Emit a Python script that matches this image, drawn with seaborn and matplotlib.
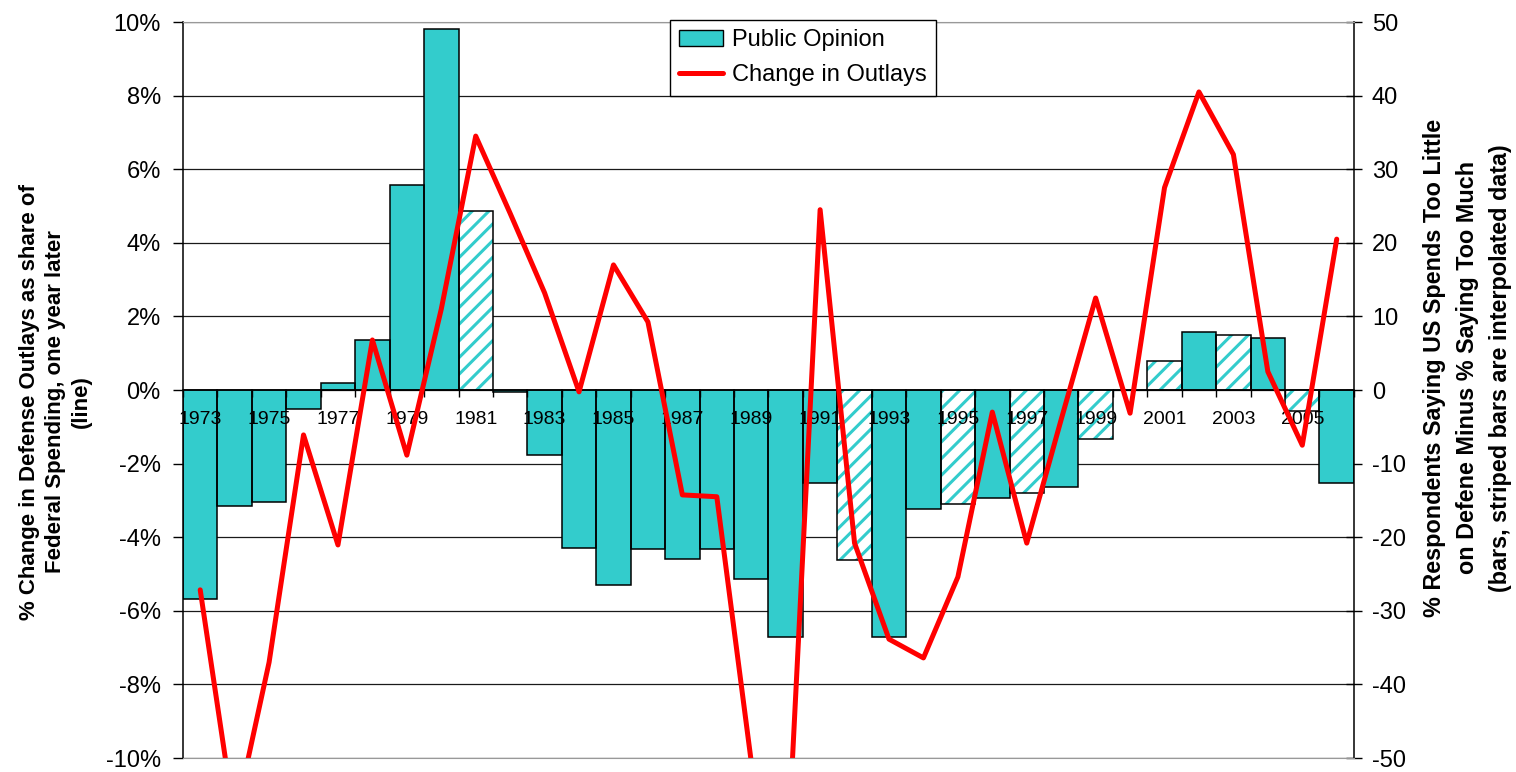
import numpy as np
import matplotlib
matplotlib.use("Agg")
import matplotlib.pyplot as plt
import seaborn as sns
from matplotlib.patches import Patch
from matplotlib.lines import Line2D
from matplotlib.ticker import FuncFormatter


years = list(range(1973, 2007))
# bars: % saying too little minus % saying too much (right axis)
opinion = [-28.4, -15.8, -15.2, -2.6, 0.9, 6.8, 27.9, 49.0, 24.3, -0.3,
           -8.8, -21.5, -26.5, -21.6, -22.9, -21.6, -25.7, -33.6, -12.6, -23.1,
           -33.5, -16.1, -15.5, -14.7, -14.0, -13.2, -6.7, 0.0, 3.9, 7.9,
           7.5, 7.0, -2.9, -12.6]
# line: % change in defense outlays, one year later (left axis)
outlays = [-5.43, -11.7, -7.4, -1.22, -4.21, 1.36, -1.77, 2.2, 6.9, 4.8,
           2.64, -0.05, 3.4, 1.85, -2.85, -2.9, -10.1, -13.7, 4.9, -4.16,
           -6.77, -7.28, -5.08, -0.6, -4.16, -0.8, 2.5, -0.63, 5.5, 8.1,
           6.4, 0.5, -1.5, 4.1]
# years whose bars are interpolated (striped)
interpolated = [1981, 1992, 1995, 1997, 1999, 2001, 2003, 2005]
label_years = list(range(1973, 2006, 2))

CYAN = "#33CCCC"

sns.set_style("white")
plt.rcParams['font.family'] = ['Liberation Sans', 'DejaVu Sans']
plt.rcParams['axes.unicode_minus'] = False
plt.rcParams['hatch.linewidth'] = 2.2
for k in ['text.color', 'axes.labelcolor', 'xtick.color', 'ytick.color']:
    plt.rcParams[k] = 'black'

fig = plt.figure(figsize=(15.16, 7.72), dpi=100)
ax = fig.add_axes([0.1207, 0.0181, 0.7724, 0.9534])
ax2 = ax.twinx()

# bars (fill + hatch), then black outlines on top
sns.barplot(x=years, y=opinion, native_scale=True, width=1, color=CYAN,
            saturation=1, linewidth=0, errorbar=None, ax=ax)
for patch, yr in zip(ax.patches, years):
    if yr in interpolated:
        patch.set_facecolor("white")
        patch.set_edgecolor(CYAN)
        patch.set_hatch("//")
sns.barplot(x=years, y=opinion, native_scale=True, width=1, color="black",
            fill=False, linewidth=1.1, errorbar=None, ax=ax)

# line on the twin axis
sns.lineplot(x=years, y=outlays, color="red", linewidth=3.6, ax=ax2)

# swap sides: bars scale on the right, line scale on the left
ax.yaxis.tick_right()
ax.yaxis.set_label_position("right")
ax2.yaxis.tick_left()
ax2.yaxis.set_label_position("left")

ax.set_xlim(1972.5, 2006.5)
ax.set_ylim(-50, 50)
ax2.set_ylim(-10, 10)
ax.set_yticks(np.arange(-50, 51, 10))
ax2.set_yticks(np.arange(-10, 11, 2))
ax2.yaxis.set_major_formatter(FuncFormatter(lambda v, p: f"{v:.0f}%"))

ax.set_axisbelow(True)
ax.yaxis.grid(True, color="#1a1a1a", linewidth=0.9)
ax.xaxis.set_zorder(2.5)

# category axis at zero, ticks between bars, labels for odd years
ax.spines["bottom"].set_position(("data", 0))
ax.set_xticks(np.arange(1972.5, 2007, 1))
ax.xaxis.set_major_formatter(FuncFormatter(lambda v, p: ""))
ax.set_xticks(label_years, minor=True)
ax.set_xticklabels([str(y) for y in label_years], minor=True)
ax.tick_params(axis="x", which="major", direction="out", length=5,
               width=1, color="black", bottom=True)
ax.tick_params(axis="x", which="minor", length=0, pad=15, labelsize=14,
               bottom=True)

ax.tick_params(axis="y", direction="inout", length=12, width=1,
               color="black", labelsize=17, pad=7, right=True, left=False)
ax2.tick_params(axis="y", direction="out", length=7, width=1,
                color="black", labelsize=17, pad=9, left=True, right=False)

for s in ["left", "right", "bottom"]:
    ax.spines[s].set_color("black")
    ax.spines[s].set_linewidth(1.1)
ax.spines["top"].set_visible(False)
ax2.spines["left"].set_visible(False)
ax2.spines["right"].set_visible(False)
ax2.spines["top"].set_color("#999999")
ax2.spines["bottom"].set_color("#999999")

ax.set_xlabel("")
ax.set_ylabel("% Respondents Saying US Spends Too Little\non Defene Minus % Saying Too Much\n(bars, striped bars are interpolated data)",
              fontsize=16.8, fontweight="bold", linespacing=1.56)
ax.yaxis.set_label_coords(1.0589, 0.53)
ax2.set_ylabel("% Change in Defense Outlays as share of\nFederal Spending, one year later\n(line)",
               fontsize=16, fontweight="bold", linespacing=1.32)
ax2.yaxis.set_label_coords(-0.0777, 0.484)

handles = [Patch(facecolor=CYAN, edgecolor="black", linewidth=1, label="Public Opinion"),
           Line2D([], [], color="red", linewidth=3.6, label="Change in Outlays")]
leg = ax2.legend(handles=handles, loc="upper center", bbox_to_anchor=(0.5295, 1.003),
                 frameon=True, fancybox=False, framealpha=1, fontsize=17,
                 handlelength=1.85, handleheight=0.65, borderpad=0.4,
                 labelspacing=0.55, handletextpad=0.4, borderaxespad=0)
leg.get_frame().set_edgecolor("black")
leg.get_frame().set_linewidth(1)

fig.savefig("out.png", dpi=100)
